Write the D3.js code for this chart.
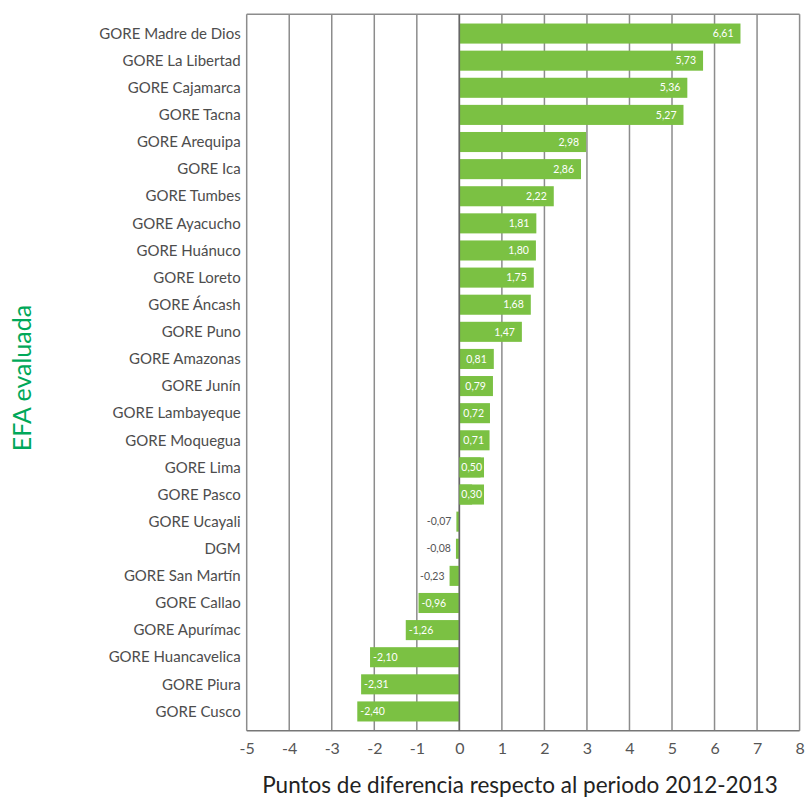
<!DOCTYPE html>
<html><head><meta charset="utf-8">
<script src="https://cdn.jsdelivr.net/npm/d3@7"></script>
<style>body{margin:0;background:#fff}</style>
</head><body>
<svg id="c" width="807" height="799"></svg>
<script>
const categories = ["GORE Madre de Dios","GORE La Libertad","GORE Cajamarca","GORE Tacna","GORE Arequipa","GORE Ica","GORE Tumbes","GORE Ayacucho","GORE Huánuco","GORE Loreto","GORE Áncash","GORE Puno","GORE Amazonas","GORE Junín","GORE Lambayeque","GORE Moquegua","GORE Lima","GORE Pasco","GORE Ucayali","DGM","GORE San Martín","GORE Callao","GORE Apurímac","GORE Huancavelica","GORE Piura","GORE Cusco"];
const values = [6.61,5.73,5.36,5.27,2.98,2.86,2.22,1.81,1.80,1.75,1.68,1.47,0.81,0.79,0.72,0.71,0.50,0.30,-0.07,-0.08,-0.23,-0.96,-1.26,-2.10,-2.31,-2.40];
const tickValues = [-5,-4,-3,-2,-1,0,1,2,3,4,5,6,7,8];
const xTitle = "Puntos de diferencia respecto al periodo 2012-2013";
const yTitle = "EFA evaluada";

const svg = d3.select("#c");
const L = 246.7, R = 799.6, T = 14.3, B = 730.7;
const x = d3.scaleLinear().domain([-5, 8]).range([L, R]);
const y = d3.scaleBand().domain(categories).range([T, B]).paddingInner(0.26).paddingOuter(0.34);
const fmt = v => d3.format(".2f")(v).replace(".", ",").replace("\u2212", "-");
const font = "'Lato', 'Noto Sans', sans-serif";
const green = "#7bc143";
const gridC = "#8c8c8c";

// gridlines
svg.append("g").selectAll("line").data(tickValues).join("line")
  .attr("x1", d => x(d)).attr("x2", d => x(d)).attr("y1", T).attr("y2", B)
  .attr("stroke", gridC).attr("stroke-width", 1.5);
// frame
svg.append("line").attr("x1", L).attr("x2", R).attr("y1", T).attr("y2", T).attr("stroke", gridC).attr("stroke-width", 1.5);
svg.append("line").attr("x1", L).attr("x2", R).attr("y1", B).attr("y2", B).attr("stroke", "#777").attr("stroke-width", 1.5);

// bars
svg.append("g").selectAll("rect").data(values).join("rect")
  .attr("x", d => x(Math.min(0, d)))
  .attr("width", d => Math.abs(x(d) - x(0)))
  .attr("y", (d, i) => y(categories[i]))
  .attr("height", y.bandwidth())
  .attr("fill", green);

// zero line
svg.append("line").attr("x1", x(0)).attr("x2", x(0)).attr("y1", T).attr("y2", B).attr("stroke", "#666").attr("stroke-width", 1.5);

// value labels
const lblG = svg.append("g");
values.forEach((d, i) => {
  const yc = y(categories[i]) + y.bandwidth() / 2;
  const w = Math.abs(x(d) - x(0));
  const t = lblG.append("text")
    .attr("font-family", font).attr("font-size", 10.5)
    .attr("y", yc).attr("dy", "0.35em").text(fmt(d));
  if (d >= 0) {
    const tw = t.node().getComputedTextLength();
    if (w < tw + 6) {
      // label box extends past a short bar
      lblG.insert("rect", "text").attr("x", x(0)).attr("y", y(categories[i]))
        .attr("width", tw + 4).attr("height", y.bandwidth()).attr("fill", green);
      t.attr("x", x(0) + 2).attr("text-anchor", "start").attr("fill", "#fff");
    } else {
      t.attr("x", Math.max(x(d) - 7, x(0) + tw + 4)).attr("text-anchor", "end").attr("fill", "#fff");
    }
  } else if (w > 30) {
    t.attr("x", x(d) + 3).attr("text-anchor", "start").attr("fill", "#fff");
  } else {
    t.attr("x", x(d) - 5).attr("text-anchor", "end").attr("fill", "#555");
  }
});

// category labels
svg.append("g").selectAll("text").data(categories).join("text")
  .attr("x", L - 6).attr("y", d => y(d) + y.bandwidth() / 2).attr("dy", "0.35em")
  .attr("text-anchor", "end").attr("font-family", font).attr("font-size", 15)
  .attr("fill", "#4d4d4d").text(d => d);

// x axis tick labels
const xAxis = d3.axisBottom(x).tickValues(tickValues).tickSize(0).tickPadding(12).tickFormat(d => String(d));
const gx = svg.append("g").attr("transform", `translate(0,${B})`).call(xAxis);
gx.select(".domain").remove();
gx.selectAll("text").attr("font-family", font).attr("font-size", 16).attr("fill", "#555");

// titles
svg.append("text").attr("x", 520).attr("y", 793).attr("text-anchor", "middle")
  .attr("font-family", font).attr("font-size", 22.5).attr("fill", "#222").text(xTitle);
svg.append("text").attr("transform", "translate(31,378) rotate(-90)").attr("text-anchor", "middle")
  .attr("font-family", font).attr("font-size", 25).attr("fill", "#00a859").text(yTitle);
</script>
</body></html>
